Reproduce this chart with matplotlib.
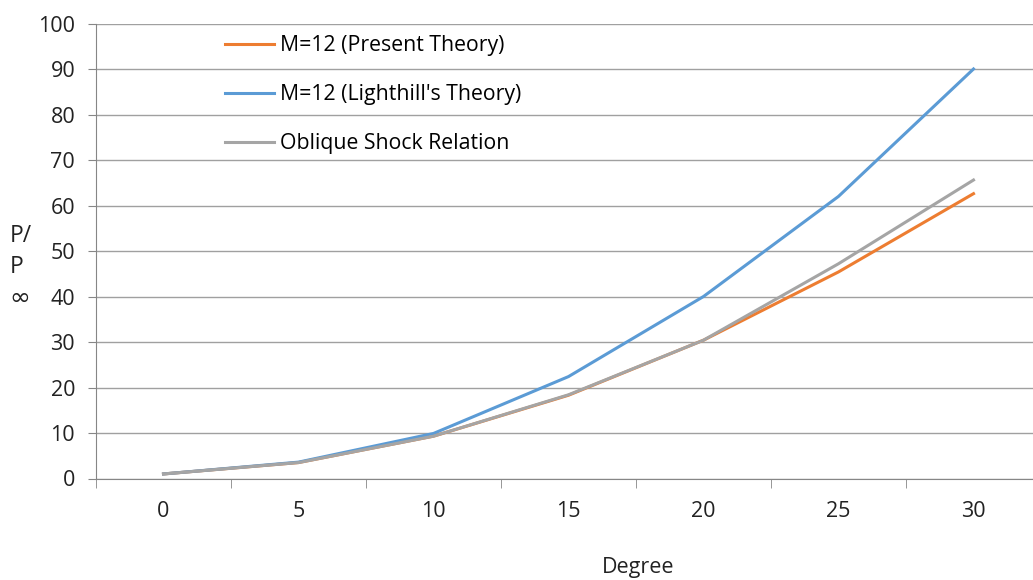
import matplotlib.pyplot as plt
import numpy as np

# dane
degrees = ["0", "5", "10", "15", "20", "25", "30"]
present_theory = [1.0, 3.5, 9.3, 18.3, 30.4, 45.4, 62.6]
lighthill_theory = [1.0, 3.6, 9.9, 22.4, 40.0, 62.0, 90.0]
oblique_shock = [1.0, 3.5, 9.3, 18.4, 30.4, 47.2, 65.6]

plt.rcParams["font.family"] = ["Open Sans", "DejaVu Sans"]
FS = 15.5
TXT = "#222222"

fig = plt.figure(figsize=(10.33, 5.8), dpi=100)
ax = fig.add_axes([96 / 1033, (580 - 478.5) / 580, 1 - 96 / 1033, 455 / 580])

x = np.arange(len(degrees))
ax.plot(x, present_theory, color="#ED7D31", lw=2.2, label="M=12 (Present Theory)")
ax.plot(x, lighthill_theory, color="#5B9BD5", lw=2.2, label="M=12 (Lighthill's Theory)")
ax.plot(x, oblique_shock, color="#A5A5A5", lw=2.2, label="Oblique Shock Relation")

ax.set_yticks(range(0, 101, 10))
ax.set_xticks(x)
ax.set_xticklabels(degrees)
ax.set_xticks(np.arange(-0.5, 7, 1), minor=True)
ax.set_ylim(0, 100)
ax.set_xlim(-0.5, 6.5 - 8 / 135)

ax.grid(axis="y", color="#A0A0A0", lw=1.0)
ax.set_axisbelow(True)
for s in ["top", "right"]:
    ax.spines[s].set_visible(False)
for s in ["left", "bottom"]:
    ax.spines[s].set_color("#868686")
ax.tick_params(axis="x", which="major", length=0, pad=16, labelsize=FS, colors=TXT)
ax.tick_params(axis="x", which="minor", length=6.5, color="#868686")
ax.tick_params(axis="y", length=6, color="#868686", labelsize=FS, colors=TXT, pad=9)

# opis osi X przesuniety w prawo jak w oryginale
fig.text(638 / 1033, 1 - 567 / 580, "Degree", fontsize=FS, ha="center", va="center", color=TXT)
# opis osi Y w trzech liniach
fig.text(10 / 1033, 1 - 236 / 580, "P/", fontsize=FS + 1, ha="left", va="center", color=TXT)
fig.text(10 / 1033, 1 - 267 / 580, "P", fontsize=FS + 1, ha="left", va="center", color=TXT)
fig.text(9 / 1033, 1 - 298 / 580, "∞", fontsize=18, ha="left", va="center", color=TXT,
         family="DejaVu Sans")

ax.legend(loc="upper left", bbox_to_anchor=(0.122, 1.007), frameon=False,
          fontsize=15.3, handlelength=2.3, labelspacing=1.32, handletextpad=0.3,
          borderpad=0.2)

plt.savefig("out.png", dpi=100)
